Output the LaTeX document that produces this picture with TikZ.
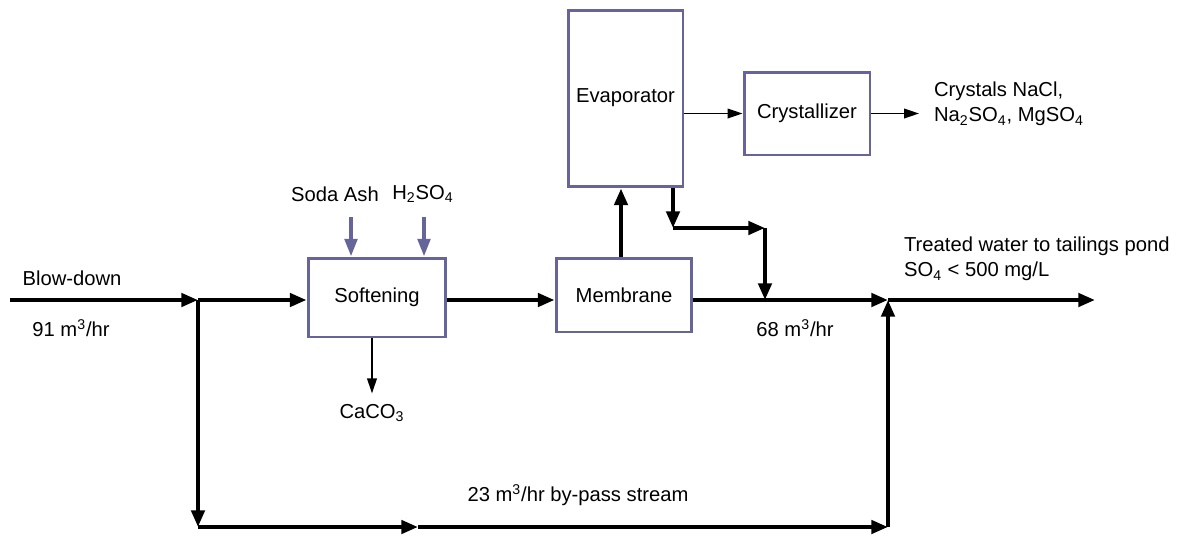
\documentclass[tikz,border=0pt]{standalone}
\usepackage{fontspec}
\setmainfont{Liberation Sans}
\usepackage{tikz}
\usetikzlibrary{arrows.meta, positioning, calc}
\usepackage{xcolor}
\definecolor{unitborder}{RGB}{101,101,153}

\begin{document}
\begin{tikzpicture}[
    x=0.02cm, y=-0.02cm,
    font=\fontsize{11.5}{14.5}\selectfont,
    unit/.style = {
      draw=unitborder, line width=1.7pt, fill=white,
      inner sep=0pt, align=center
    },
    flow/.style = {line width=2.3pt, -{Triangle[length=9.5pt, width=7.5pt]}},
    thinflow/.style = {line width=0.9pt, -{Triangle[length=8.5pt, width=5.5pt]}},
    feed/.style = {line width=2.2pt, unitborder, -{Triangle[length=10pt, width=7pt]}},
    tag/.style = {inner sep=1pt, align=left},
  ]
    \useasboundingbox (0,0) rectangle (1177,535);

    % Process units
    \node[unit, minimum width=2.76cm, minimum height=1.58cm] (soft)   at (377,297.5) {Softening};
    \node[unit, minimum width=2.72cm, minimum height=1.48cm] (memb)   at (624,295)   {Membrane};
    \node[unit, minimum width=2.30cm, minimum height=3.54cm] (evap)   at (625.5,98.5) {\raisebox{3.5pt}{Evaporator}};
    \node[unit, minimum width=2.52cm, minimum height=1.66cm] (cryst)  at (807,113.5) {Crystallizer};

    % Stream points
    \coordinate (start)   at (10,300);
    \coordinate (split)   at (198,300);
    \coordinate (corner)  at (198,527);
    \coordinate (bpmid)   at (418,527);
    \coordinate (bpend)   at (888,527);
    \coordinate (mix)     at (888,300);
    \coordinate (outlet)  at (1095,300);
    \coordinate (evdrop)  at (673,228);
    \coordinate (evturn)  at (765,228);
    \coordinate (join)    at (765,300);
    \coordinate (sodain)  at (351,217);
    \coordinate (acidin)  at (424,217);
    \coordinate (saltout) at (919,113.5);

    % Labels
    \node[tag] (blow)   at (72,278)  {Blow-down};
    \node[tag] (feedq)  at (71,328)  {91 m\textsuperscript{3}/hr};
    \node[tag] (soda)   at (335,194) {Soda Ash};
    \node[tag] (acid)   at (423,194) {H\textsubscript{2}SO\textsubscript{4}};
    \node[tag] (caco)   at (372,413) {CaCO\textsubscript{3}};
    \node[tag] (permq)  at (795,328) {68 m\textsuperscript{3}/hr};
    \node[tag] (bypq)   at (578,495) {23 m\textsuperscript{3}/hr by-pass stream};
    \node[tag, anchor=west] (salts) at (932,104) {Crystals NaCl,\\Na\textsubscript{2}SO\textsubscript{4}, MgSO\textsubscript{4}};
    \node[tag, anchor=west] (pond)  at (902,259) {Treated water to tailings pond\\SO\textsubscript{4} < 500 mg/L};

    % Main line
    \draw[flow] (start) -- (split);
    \draw[flow] (split) -- (soft.west |- split);
    \draw[flow] (soft.east |- split) -- (memb.west |- split);
    \draw[flow] (memb.east |- split) -- (mix);
    \draw[flow] (mix) -- (outlet);

    % By-pass
    \draw[flow] (split) -- (corner);
    \draw[flow] (corner) -- (bpmid);
    \draw[flow] (bpmid) -- (bpend);
    \draw[flow] (bpend) -- (mix);

    % Brine loop
    \draw[flow] (memb.north -| 621,0) -- (evap.south -| 621,0);
    \draw[flow] (evap.south -| evdrop) -- (evdrop);
    \draw[flow] (evdrop) -- (evturn);
    \draw[flow] (evturn) -- (join);

    % Crystallizer
    \draw[thinflow] (evap.east |- cryst) -- (cryst.west);
    \draw[thinflow] (cryst.east) -- (saltout);

    % Chemicals
    \draw[feed] (sodain) -- (sodain |- soft.north);
    \draw[feed] (acidin) -- (acidin |- soft.north);
    \draw[thinflow, shorten >=5pt] (soft.south -| caco.north) -- (caco.north);
  \end{tikzpicture}
\end{document}
